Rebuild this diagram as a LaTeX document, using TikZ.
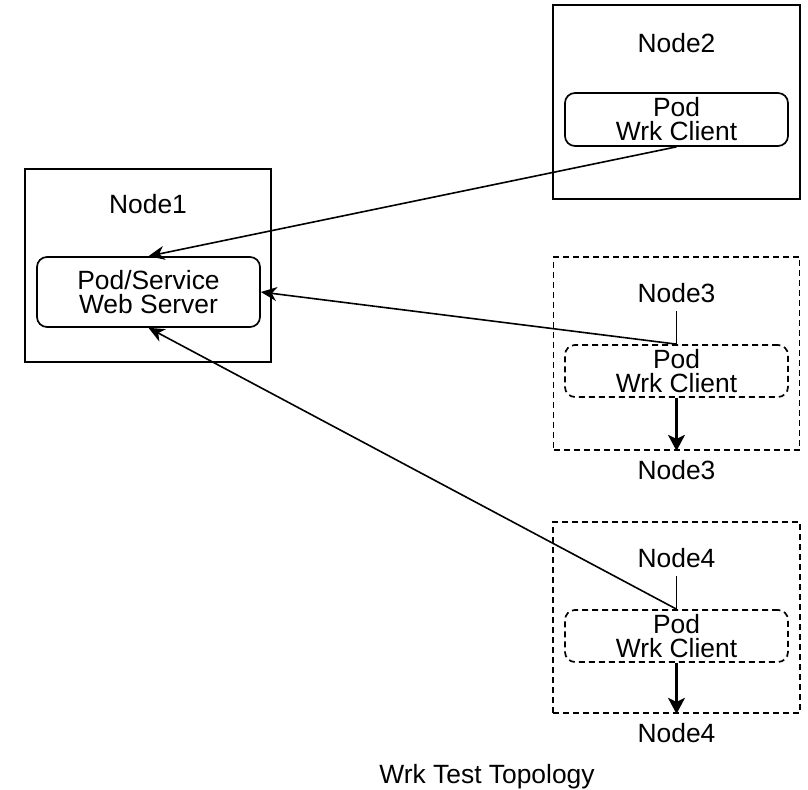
\documentclass[tikz,border=0pt]{standalone}
\usepackage{fontspec}
\setmainfont{Liberation Sans}
\usetikzlibrary{arrows.meta}
\begin{document}
\begin{tikzpicture}[x=0.5pt,y=-0.5pt,
  every node/.style={font=\fontsize{13.2}{12}\selectfont, align=center},
  hostbox/.style={draw, line width=1pt, inner sep=0pt},
  hostdash/.style={hostbox, line width=0.85pt, dash pattern=on 3pt off 2pt},
  podbox/.style={draw, line width=0.85pt, rounded corners=5pt, minimum width=111.5pt, inner sep=0pt},
  poddash/.style={podbox, dash pattern=on 3pt off 2pt},
  lbl/.style={inner sep=4pt},
  link/.style={line width=0.8pt, -{Stealth[length=8pt,width=7pt,inset=2.5pt]}},
  down/.style={line width=1.1pt, -{Stealth[length=8pt,width=8.5pt,inset=2pt]}}]
  \useasboundingbox (0,0) rectangle (808,790);

  % Node1: the server side
  \node[hostbox, minimum width=123pt, minimum height=96.5pt] (h1) at (148,265.5) {};
  \node[lbl] (h1lab) at (148,204) {Node1};
  \node[podbox, minimum height=35pt] (pod1) at (148.5,292) {Pod/Service\\Web Server};

  % Node2: client
  \node[hostbox, minimum width=123.5pt, minimum height=97pt] (h2) at (676.5,102) {};
  \node[lbl] (h2lab) at (676.5,43) {Node2};
  \node[podbox, minimum height=26.5pt] (pod2) at (676.5,119.5) {Pod\\Wrk Client};

  % Node3: client (dashed)
  \node[hostdash, minimum width=123pt, minimum height=96.5pt] (h3) at (676.5,353.5) {};
  \node[lbl] (h3lab) at (676.5,293) {Node3};
  \node[poddash, minimum height=26pt] (pod3) at (676.5,371) {Pod\\Wrk Client};
  \node[lbl] (h3out) at (676.5,470) {Node3};

  % Node4: client (dashed)
  \node[hostdash, minimum width=123.5pt, minimum height=95.5pt] (h4) at (676.5,617.5) {};
  \node[lbl] (h4lab) at (676.5,558) {Node4};
  \node[poddash, minimum height=26pt] (pod4) at (676.5,636) {Pod\\Wrk Client};
  \node[lbl] (h4out) at (676.5,733) {Node4};

  % caption
  \node (title) at (487,777) {Wrk Test Topology};

  % connectors
  \draw[link] (pod2.south) -- (pod1.north);
  \draw[line width=0.8pt] (h3lab.south) -- (pod3.north);
  \draw[link] (pod3.north) -- (pod1.east);
  \draw[line width=0.8pt] (h4lab.south) -- (pod4.north);
  \draw[link] (pod4.north) -- (pod1.south);
  \draw[down] (pod3.south) -- (h3.south);
  \draw[down] (pod4.south) -- (h4.south);
\end{tikzpicture}
\end{document}
